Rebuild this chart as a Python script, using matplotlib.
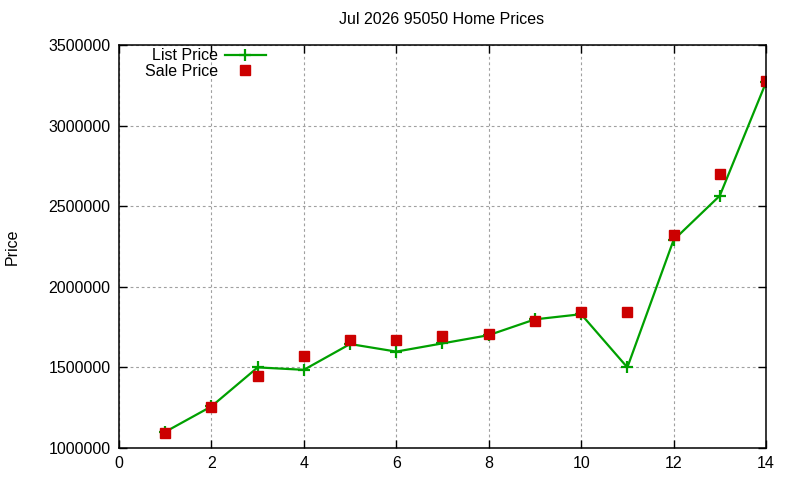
import matplotlib
matplotlib.use("Agg")
import matplotlib.pyplot as plt

plt.rcParams['font.family'] = ['Liberation Sans', 'DejaVu Sans']

# month index and prices
months = [1, 2, 3, 4, 5, 6, 7, 8, 9, 10, 11, 12, 13, 14]
list_price = [1100000, 1258000, 1500000, 1485000, 1645000, 1598000, 1649000,
              1700000, 1798000, 1830000, 1500000, 2290000, 2565000, 3268000]
sale_price = [1095000, 1256000, 1447000, 1573000, 1670000, 1672000, 1697000,
              1709000, 1790000, 1846000, 1846000, 2321000, 2702000, 3277000]

fig = plt.figure(figsize=(8, 4.8), dpi=100)
ax = fig.add_axes([119/800, 1 - 448/480, (766 - 119)/800, (448 - 45)/480])

ax.plot(months, list_price, color='#00a000', lw=1.6, marker='+', ms=9, mew=1.6,
        label='List Price')
ax.plot(months, sale_price, ls='none', marker='s', ms=6.5, color='#cc0000',
        label='Sale Price')

ax.set_xlim(0, 14)
ax.set_ylim(1000000, 3500000)
ax.set_xticks(range(0, 15, 2))
ax.set_yticks(range(1000000, 3500001, 500000))
ax.ticklabel_format(axis='y', style='plain', useOffset=False)
ax.tick_params(direction='in', top=True, right=True, length=6, width=1,
               labelsize=11.5, pad=6)
ax.grid(True, color='#a0a0a0', ls=(0, (2.5, 2.5)), lw=0.8)
for s in ax.spines.values():
    s.set_linewidth(1.1)

fig.text(442/800, 1 - 20/480, 'Jul 2026 95050 Home Prices', ha='center',
         va='center', fontsize=11.5)
fig.text(12/800, 1 - 247/480, 'Price', rotation=90, ha='center', va='center',
         fontsize=11.5)

ax.legend(loc='upper left', bbox_to_anchor=(0.028, 1.012), frameon=False,
          markerfirst=False, fontsize=11.5, handlelength=2.6, labelspacing=0.05,
          borderaxespad=0.1, handletextpad=0.4)

fig.savefig('out.png', dpi=100)
